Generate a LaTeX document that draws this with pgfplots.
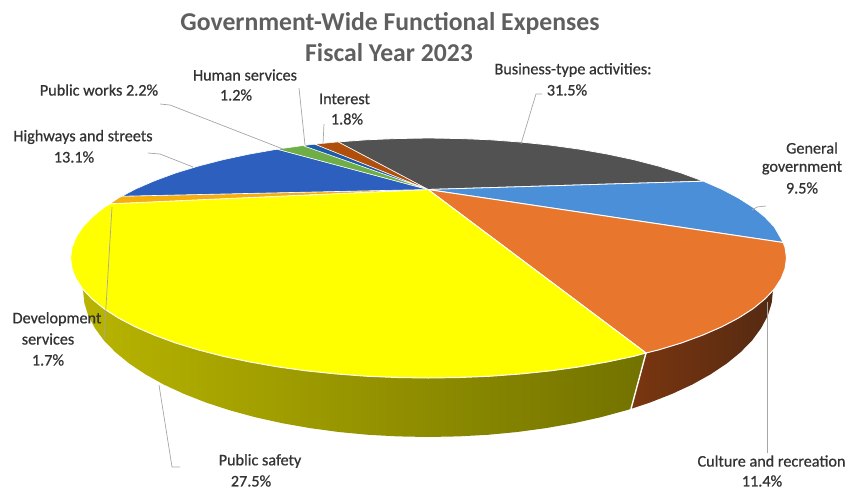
\documentclass[border=0pt]{standalone}
\usepackage{pgfplots}
\pgfplotsset{compat=1.18}
\usepackage{fontspec}
\setmainfont{Carlito}
\newfontfamily\lblfont[FakeBold=0.7]{Carlito}
\definecolor{titlegray}{HTML}{5F5F5F}
\definecolor{labeltext}{HTML}{333333}
\definecolor{leader}{HTML}{A6A6A6}
\definecolor{bizgray}{HTML}{525252}
\definecolor{genblue}{HTML}{4A8FD8}
\definecolor{culture}{HTML}{E8762C}
\definecolor{safety}{HTML}{FFFF00}
\definecolor{devserv}{HTML}{F5AE0A}
\definecolor{highways}{HTML}{2C5FBE}
\definecolor{pubworks}{HTML}{6FAD47}
\definecolor{humserv}{HTML}{1F5CA8}
\definecolor{interest}{HTML}{B04E0C}
\definecolor{rimleft}{HTML}{B8B400}
\definecolor{rimright}{HTML}{727200}
\definecolor{brownleft}{HTML}{7A3610}
\definecolor{brownright}{HTML}{552A12}
\newcommand{\lbl}[3]{\node[text=labeltext,font=\lblfont\fontsize{16.2}{16}\selectfont] at (axis cs:#1,#2) {#3};}
\begin{document}
\begin{tikzpicture}
\path (0,0) rectangle (848pt,490pt);
\begin{axis}[
  scale only axis, width=848pt, height=490pt,
  xmin=0, xmax=848, ymin=0, ymax=490, y dir=reverse,
  hide axis, no markers,
]
% rim of the disc
\addplot[draw=none, left color=rimleft, right color=rimright]
  coordinates {(82.7,289.1)(92.1,299.0)(104.0,308.7)(118.5,318.0)(135.2,326.8)(154.3,335.1)(175.4,342.9)(198.4,349.9)(223.2,356.3)(249.5,361.9)(277.2,366.8)(306.1,370.8)(335.8,373.9)(366.3,376.2)(397.3,377.5)(428.5,378)(459.7,377.5)(490.7,376.2)(521.2,373.9)(550.9,370.8)(579.8,366.8)(607.5,361.9)(633.8,356.3)(646,353)
  (631,408.9)(625.9,410.4)(600.5,417.3)(573.8,423.2)(546.0,428.1)(517.3,432.0)(487.9,434.8)(458.1,436.4)(428,437)(397.9,436.4)(368.1,434.8)(338.7,432.0)(310.0,428.1)(282.2,423.2)(255.5,417.3)(230.1,410.4)(206.2,402.6)(184.0,393.9)(163.7,384.5)(145.4,374.3)(129.2,363.5)(115.3,352.1)(103.8,340.3)(94.8,328.0)(88.2,315.5)(84.3,302.8)(83,290)} --cycle;
\addplot[draw=none, left color=brownleft, right color=brownright]
  coordinates {(646,353)(658.6,349.9)(681.6,342.9)(702.7,335.1)(721.8,326.8)(738.5,318.0)(753.0,308.7)(764.9,299.0)(774.3,289.1)
  (773,290)(771.7,302.8)(767.8,315.5)(761.2,328.0)(752.2,340.3)(740.7,352.1)(726.8,363.5)(710.6,374.3)(692.3,384.5)(672.0,393.9)(649.8,402.6)(631,408.9)} --cycle;
\addplot[white, line width=1.4pt] coordinates {(646,353)(631,408.9)};
% top face
\addplot[fill=bizgray, draw=white, line width=0.8pt]
  coordinates {(428,189.5)(338,141.9)(366.3,139.8)(397.3,138.5)(428.5,138)(459.7,138.5)(490.7,139.8)(521.2,142.1)(550.9,145.2)(579.8,149.2)(607.5,154.1)(633.8,159.7)(658.6,166.1)(681.6,173.1)(703.5,181.2)} --cycle;
\addplot[fill=genblue, draw=white, line width=0.8pt]
  coordinates {(428,189.5)(703.5,181.2)(721.8,189.2)(738.5,198.0)(753.0,207.3)(764.9,217.0)(774.3,226.9)(783.2,242.5)} --cycle;
\addplot[fill=culture, draw=white, line width=1pt]
  coordinates {(428,189.5)(783.2,242.5)(785.1,247.5)(786.5,258)(785.1,268.5)(781.1,278.8)(774.3,289.1)(764.9,299.0)(753.0,308.7)(738.5,318.0)(721.8,326.8)(702.7,335.1)(681.6,342.9)(658.6,349.9)(646,353)} --cycle;
\addplot[fill=safety, draw=white, line width=1pt]
  coordinates {(428,189.5)(646,353)(633.8,356.3)(607.5,361.9)(579.8,366.8)(550.9,370.8)(521.2,373.9)(490.7,376.2)(459.7,377.5)(428.5,378)(397.3,377.5)(366.3,376.2)(335.8,373.9)(306.1,370.8)(277.2,366.8)(249.5,361.9)(223.2,356.3)(198.4,349.9)(175.4,342.9)(154.3,335.1)(135.2,326.8)(118.5,318.0)(104.0,308.7)(92.1,299.0)(82.7,289.1)(75.9,278.8)(71.9,268.5)(70.5,258)(71.9,247.5)(75.9,237.2)(82.7,226.9)(92.1,217.0)(104.0,207.3)(110,203.7)} --cycle;
\addplot[fill=devserv, draw=white, line width=0.6pt]
  coordinates {(428,189.5)(110,203.7)(118.5,198.0)(122,196.2)} --cycle;
\addplot[fill=highways, draw=white, line width=0.6pt]
  coordinates {(428,189.5)(122,196.2)(135.2,189.2)(154.3,180.9)(175.4,173.1)(198.4,166.1)(223.2,159.7)(249.5,154.1)(277.2,149.2)} --cycle;
\addplot[fill=pubworks, draw=white, line width=0.5pt]
  coordinates {(428,189.5)(277.2,149.2)(303,145.6)} --cycle;
\addplot[fill=humserv, draw=white, line width=0.5pt]
  coordinates {(428,189.5)(303,145.6)(315,144.2)} --cycle;
\addplot[fill=interest, draw=white, line width=0.5pt]
  coordinates {(428,189.5)(315,144.2)(338,141.9)} --cycle;
% leader lines
\addplot[leader, line width=0.7pt] coordinates {(160,104)(170,105)(283,149)};
\addplot[leader, line width=0.7pt] coordinates {(299,88)(305,145)};
\addplot[leader, line width=0.7pt] coordinates {(324,124)(323,144)};
\addplot[leader, line width=0.7pt] coordinates {(148,153)(160,154)(193,167)};
\addplot[leader, line width=0.7pt] coordinates {(542,94)(536,94)(521,144)};
\addplot[leader, line width=0.7pt] coordinates {(766,206)(757,207)(752,210)};
\addplot[leader, line width=0.7pt] coordinates {(112,207)(104,340)};
\addplot[leader, line width=0.7pt] coordinates {(159,385)(172,467)(180,467)};
\addplot[leader, line width=0.7pt] coordinates {(767,302)(767,453)};
% title
\node[text=titlegray,font=\fontsize{25.7}{26}\selectfont\bfseries] at (axis cs:390,23) {Government-Wide Functional Expenses};
\node[text=titlegray,font=\fontsize{25.7}{26}\selectfont\bfseries] at (axis cs:389,53) {Fiscal Year 2023};
% slice labels
\lbl{99}{90}{Public works 2.2\%}
\lbl{245}{75}{Human services}
\lbl{236}{95}{1.2\%}
\lbl{344.5}{99}{Interest}
\lbl{347}{119}{1.8\%}
\lbl{83}{137}{Highways and streets}
\lbl{74}{157}{13.1\%}
\lbl{573}{70}{Business-type activities:}
\lbl{567}{90}{31.5\%}
\lbl{812}{148}{General}
\lbl{802}{168}{government}
\lbl{802}{188}{9.5\%}
\lbl{57}{319}{Development}
\lbl{48}{339}{services}
\lbl{48}{360}{1.7\%}
\lbl{260}{461}{Public safety}
\lbl{251}{481}{27.5\%}
\lbl{771.5}{461}{Culture and recreation}
\lbl{762}{481}{11.4\%}
\end{axis}
\end{tikzpicture}
\end{document}
